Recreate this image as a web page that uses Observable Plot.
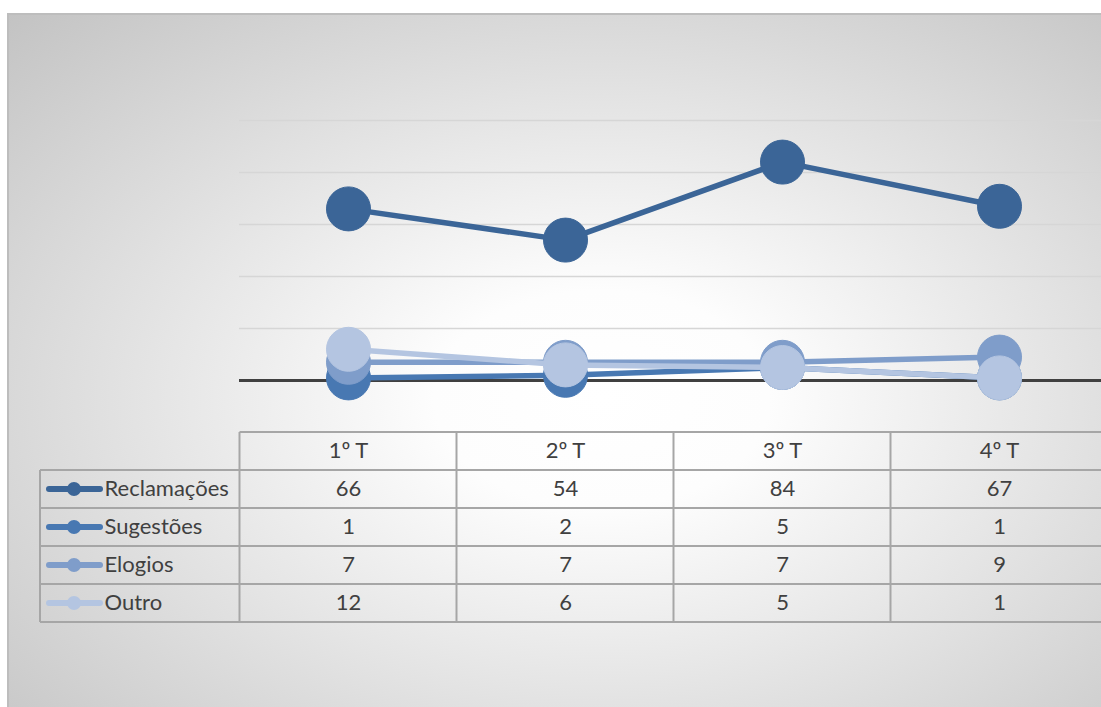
<!DOCTYPE html>
<html>
<head>
<meta charset="utf-8">
<script src="https://cdn.jsdelivr.net/npm/d3@7"></script>
<script src="https://cdn.jsdelivr.net/npm/@observablehq/plot@0.6"></script>
<style>
  html, body { margin: 0; padding: 0; background: #fff; }
  #wrap { position: relative; width: 1101px; height: 707px; overflow: hidden; }
  #bg { position: absolute; left: 7px; top: 13px; width: 1100px; height: 700px;
        border-top: 2px solid #bdbdbd; border-left: 2px solid #bdbdbd; box-sizing: border-box;
        background: radial-gradient(ellipse farthest-corner at 54% 55%, #ffffff 0%, #fdfdfd 20%, #c3c3c3 100%); }
  #chart { position: absolute; left: 0; top: 0; }
</style>
</head>
<body>
<div id="wrap"><div id="bg"></div><div id="chart"></div></div>
<script>
const categories = ["1º T", "2º T", "3º T", "4º T"];
const seriesNames = ["Reclamações", "Sugestões", "Elogios", "Outro"];
const reclamacoes = [66, 54, 84, 67];
const sugestoes = [1, 2, 5, 1];
const elogios = [7, 7, 7, 9];
const outro = [12, 6, 5, 1];
const gridTicks = [20, 40, 60, 80, 100];
const colors = ["#3b6597", "#4878b2", "#7f9dca", "#b4c5e1"];

const seriesValues = [reclamacoes, sugestoes, elogios, outro];
const rows = seriesNames.flatMap((s, i) =>
  categories.map((c, j) => ({series: s, cat: c, value: seriesValues[i][j]})));

const font = "Lato, 'Open Sans', sans-serif";
const W = 1101, H = 707;
const fs = 22;
const shift = 6;
const rowDy = [109, 147, 185, 223];

const marks = [
  Plot.ruleY(gridTicks, {stroke: "#d6d6d6", strokeWidth: 1.5}),
  Plot.ruleY([0], {stroke: "#404040", strokeWidth: 3})
];
seriesNames.forEach((s, i) => {
  const d = rows.filter(r => r.series === s);
  marks.push(Plot.line(d, {x: "cat", y: "value", stroke: colors[i], strokeWidth: 5.5}));
  marks.push(Plot.dot(d, {x: "cat", y: "value", r: 22, fill: colors[i], stroke: colors[i], strokeWidth: 1}));
});
// table header
marks.push(Plot.text(categories, {x: d => d, frameAnchor: "bottom", dy: 71 + shift, fill: "#404040", fontSize: fs, fontFamily: font}));
// table values + row labels
seriesNames.forEach((s, i) => {
  const d = rows.filter(r => r.series === s);
  marks.push(Plot.text(d, {x: "cat", text: d => String(d.value), frameAnchor: "bottom", dy: rowDy[i] + shift, fill: "#404040", fontSize: fs, fontFamily: font}));
  marks.push(Plot.text([s], {text: d => d, frameAnchor: "bottom-left", dx: -135, dy: rowDy[i] + shift, textAnchor: "start", fill: "#404040", fontSize: fs, fontFamily: font}));
});

const chart = Plot.plot({
  width: W, height: H,
  marginTop: 120, marginBottom: 327, marginLeft: 239, marginRight: 0,
  style: {background: "transparent", fontFamily: font},
  x: {type: "point", domain: categories, range: [239, 1107], padding: 0.5, axis: null},
  y: {domain: [0, 100], axis: null},
  marks
});
document.getElementById("chart").appendChild(chart);

// table grid + legend swatches
const svg = d3.select(chart);
const xs = chart.scale("x");
const step = 217;
const bounds = categories.map(c => xs.apply(c) - step / 2);
const g = svg.insert("g", ":first-child").attr("stroke", "#a6a6a6").attr("stroke-width", 2);
const yTop = 380 + 52, rowH = 38;
g.append("line").attr("x1", bounds[0]).attr("x2", W).attr("y1", yTop).attr("y2", yTop);
for (let k = 1; k <= 5; k++) {
  g.append("line").attr("x1", 40).attr("x2", W).attr("y1", yTop + k * rowH).attr("y2", yTop + k * rowH);
}
bounds.forEach(b => g.append("line").attr("x1", b).attr("x2", b).attr("y1", yTop).attr("y2", yTop + 5 * rowH));
g.append("line").attr("x1", 40).attr("x2", 40).attr("y1", yTop + rowH).attr("y2", yTop + 5 * rowH);

const lg = svg.append("g");
seriesNames.forEach((s, i) => {
  const cy = 380 + rowDy[i];
  lg.append("line").attr("x1", 49).attr("x2", 100).attr("y1", cy).attr("y2", cy)
    .attr("stroke", colors[i]).attr("stroke-width", 6).attr("stroke-linecap", "round");
  lg.append("circle").attr("cx", 74).attr("cy", cy).attr("r", 7).attr("fill", colors[i]);
});
</script>
</body>
</html>
